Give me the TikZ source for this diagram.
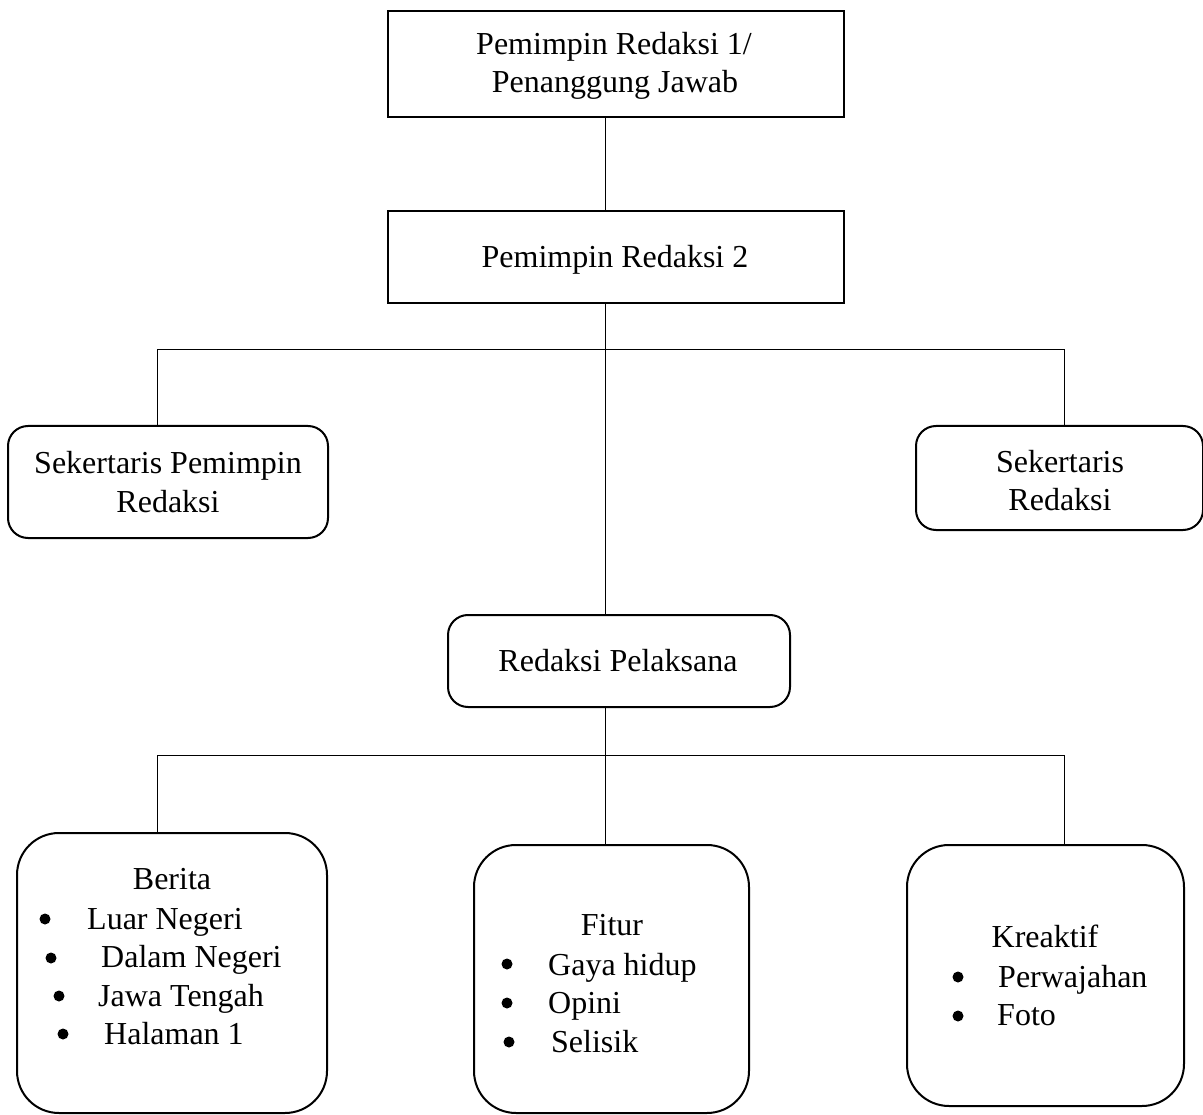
\documentclass[tikz,border=0pt]{standalone}
\usepackage{fontspec}
\setmainfont{Liberation Serif}
\begin{document}
\begin{tikzpicture}[x=1pt,y=-1pt,
  box/.style={draw,line width=2pt,inner sep=0pt},
  rbox/.style={box,rounded corners=20pt},
  bbox/.style={box,rounded corners=42pt},
  txt/.style={inner sep=0pt,anchor=base west,font=\fontsize{32}{38}\selectfont},
  ctxt/.style={inner sep=0pt,anchor=base,font=\fontsize{32}{38}\selectfont},
  dot/.style={circle,fill,inner sep=0pt,minimum size=11pt},
  conn/.style={line width=1pt}]
\useasboundingbox (0,0) rectangle (1203,1115);
% boxes
\node[box,minimum width=456pt,minimum height=106pt] (pr1) at (616,64) {};
\node[box,minimum width=456pt,minimum height=92pt] (pr2) at (616,257) {};
\node[rbox,minimum width=320pt,minimum height=112pt] (sek1) at (168,482) {};
\node[rbox,minimum width=287pt,minimum height=104pt] (sek2) at (1059.5,478) {};
\node[rbox,minimum width=342pt,minimum height=92pt] (rp) at (619,661) {};
\node[bbox,minimum width=310pt,minimum height=280pt] (berita) at (172,973) {};
\node[bbox,minimum width=275pt,minimum height=268pt] (fitur) at (611.5,979) {};
\node[bbox,minimum width=277pt,minimum height=261pt] (kreaktif) at (1045.5,975.5) {};
% box texts
\node[ctxt] (pr1a) at (614,55) {Pemimpin Redaksi 1/};
\node[ctxt] (pr1b) at (615,93) {Penanggung Jawab};
\node[ctxt] (pr2t) at (615,268) {Pemimpin Redaksi 2};
\node[ctxt] (sek1a) at (168,473) {Sekertaris Pemimpin};
\node[ctxt] (sek1b) at (168,512) {Redaksi};
\node[ctxt] (sek2a) at (1060,472) {Sekertaris};
\node[ctxt] (sek2b) at (1060,510) {Redaksi};
\node[ctxt] (rpt) at (618,671) {Redaksi Pelaksana};
% Berita list
\node[ctxt] (bhead) at (172,889) {Berita};
\node[dot] (bd1) at (45,919) {};
\node[txt] (b1) at (87,929) {Luar Negeri};
\node[dot] (bd2) at (51,958) {};
\node[txt] (b2) at (101,967) {Dalam Negeri};
\node[dot] (bd3) at (59,996) {};
\node[txt] (b3) at (98,1006) {Jawa Tengah};
\node[dot] (bd4) at (63,1034) {};
\node[txt] (b4) at (104,1044) {Halaman 1};
% Fitur list
\node[ctxt] (fhead) at (612,935) {Fitur};
\node[dot] (fd1) at (507,964) {};
\node[txt] (f1) at (548,975) {Gaya hidup};
\node[dot] (fd2) at (507,1003) {};
\node[txt] (f2) at (548,1013) {Opini};
\node[dot] (fd3) at (509,1042) {};
\node[txt] (f3) at (551,1052) {Selisik};
% Kreaktif list
\node[ctxt] (khead) at (1045,947) {Kreaktif};
\node[dot] (kd1) at (958,977) {};
\node[txt] (k1) at (998,987) {Perwajahan};
\node[dot] (kd2) at (958,1016) {};
\node[txt] (k2) at (997,1025) {Foto};
% connectors
\coordinate (t1) at (605,350);
\coordinate (l1) at (157,350);
\coordinate (r1) at (1064,350);
\coordinate (t2) at (605,755);
\coordinate (l2) at (157,755);
\coordinate (r2) at (1064,755);
\draw[conn] (pr1.south -| t1) -- (pr2.north -| t1);
\draw[conn] (pr2.south -| t1) -- (rp.north -| t1);
\draw[conn] (sek1.north -| l1) -- (l1) -- (r1) -- (sek2.north -| r1);
\draw[conn] (rp.south -| t2) -- (fitur.north -| t2);
\draw[conn] (berita.north -| l2) -- (l2) -- (r2) -- (kreaktif.north -| r2);
\end{tikzpicture}
\end{document}
